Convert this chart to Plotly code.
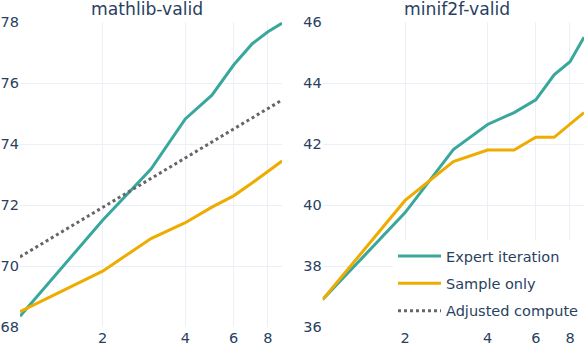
import math
import plotly.graph_objects as go
from plotly.subplots import make_subplots

x_vals = [1, 2, 3, 4, 5, 6, 7, 8, 9]

mathlib_expert = [68.35, 71.5, 73.18, 74.82, 75.6, 76.59, 77.28, 77.68, 77.96]
mathlib_sample = [68.5, 69.83, 70.9, 71.42, 71.93, 72.3, 72.72, 73.1, 73.44]
mathlib_adjusted = [70.3, 71.92, 72.87, 73.54, 74.07, 74.49, 74.86, 75.17, 75.44]

minif2f_expert = [36.9, 39.75, 41.82, 42.64, 43.03, 43.45, 44.27, 44.7, 45.5]
minif2f_sample = [36.9, 40.15, 41.42, 41.8, 41.8, 42.22, 42.22, 42.66, 43.03]

titles = ["mathlib-valid", "minif2f-valid"]
series_names = ["Expert iteration", "Sample only", "Adjusted compute"]
x_tick_vals = [2, 4, 6, 8]

TEAL = "#3aa79d"
ORANGE = "#efac00"
GREY = "#666666"
FONT = "DejaVu Sans, Verdana, sans-serif"

fig = make_subplots(rows=1, cols=2, subplot_titles=titles)

fig.add_trace(go.Scatter(x=x_vals, y=mathlib_expert, mode="lines", name=series_names[0],
                         line=dict(color=TEAL, width=3), legendgroup="e"), row=1, col=1)
fig.add_trace(go.Scatter(x=x_vals, y=mathlib_sample, mode="lines", name=series_names[1],
                         line=dict(color=ORANGE, width=3), legendgroup="s"), row=1, col=1)
fig.add_trace(go.Scatter(x=x_vals, y=mathlib_adjusted, mode="lines", name=series_names[2],
                         line=dict(color=GREY, width=3, dash="dot"), legendgroup="a"), row=1, col=1)
fig.add_trace(go.Scatter(x=x_vals, y=minif2f_expert, mode="lines", name=series_names[0],
                         line=dict(color=TEAL, width=3), legendgroup="e", showlegend=False), row=1, col=2)
fig.add_trace(go.Scatter(x=x_vals, y=minif2f_sample, mode="lines", name=series_names[1],
                         line=dict(color=ORANGE, width=3), legendgroup="s", showlegend=False), row=1, col=2)

fig.update_xaxes(type="log", range=[0, math.log10(9)], tickvals=x_tick_vals,
                 showgrid=True, zeroline=False, automargin=False)
fig.update_yaxes(zeroline=False, automargin=False)
fig.update_yaxes(range=[68, 78], dtick=2, row=1, col=1)
fig.update_yaxes(range=[36, 46], dtick=2, row=1, col=2)

fig.update_layout(
    xaxis=dict(domain=[0, 0.4645]),
    xaxis2=dict(domain=[0.5367, 1]),
)

fig.update_annotations(font=dict(size=17.2, color="#2a3f5f", family=FONT), yshift=1)

fig.update_layout(
    template="plotly_white",
    width=586, height=344,
    margin=dict(l=20, r=2, t=22, b=17),
    font=dict(family=FONT, size=14.5, color="#2a3f5f"),
    legend=dict(x=1, y=0, xanchor="right", yanchor="bottom", bgcolor="white",
                font=dict(size=14.5), tracegroupgap=5.5, itemwidth=43),
)

fig.write_html("out.html", config={"displayModeBar": False},
               post_script="document.body.style.margin='0';")
